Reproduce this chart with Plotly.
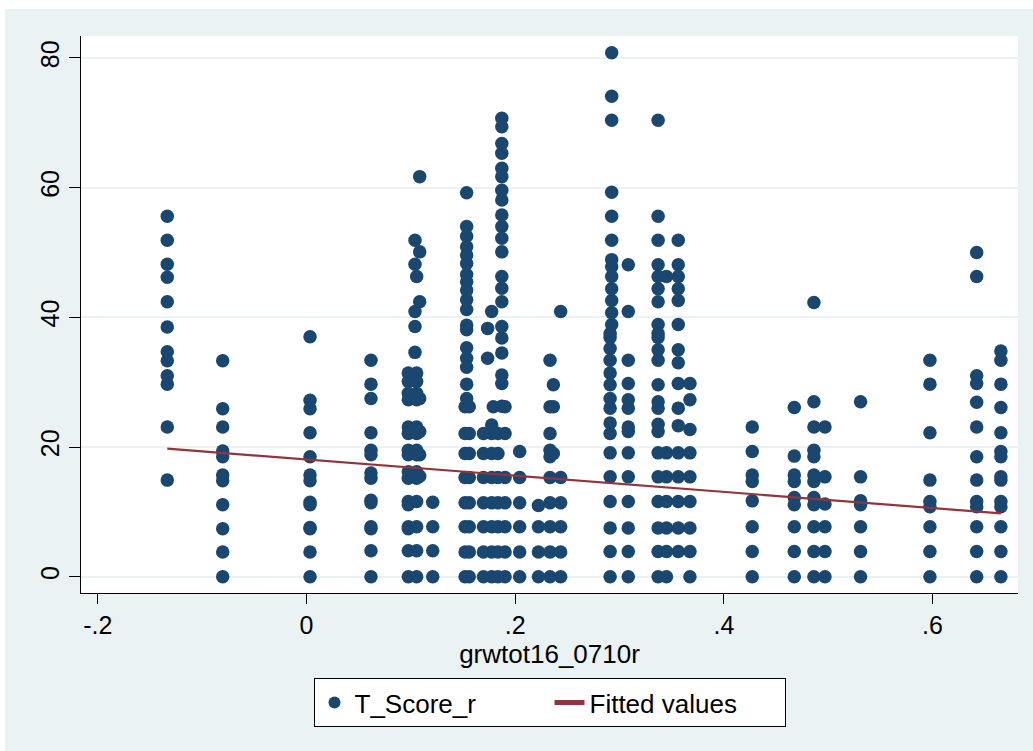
import plotly.graph_objects as go

# ---- data ----
# x position of each vertical group of points (grwtot16_0710r)
group_x = [
    -0.1334, -0.0803, 0.0034, 0.0618,
    0.0976, 0.1040, 0.1056, 0.1085, 0.1210,
    0.1520, 0.1535, 0.1560,
    0.1696, 0.1736, 0.1775, 0.1790, 0.1835, 0.1872, 0.1903,
    0.2043, 0.2223, 0.2334, 0.2366, 0.2436,
    0.2910, 0.2925, 0.3084, 0.3370, 0.3450, 0.3563, 0.3675,
    0.4272, 0.4675, 0.4863, 0.4969, 0.5310,
    0.5975, 0.6423, 0.6655,
]
# T_Score_r values of the points in each group
group_scores = [
    [55.6, 51.9, 48.2, 46.2, 42.4, 38.5, 34.7, 33.3, 31.0, 29.7, 23.1, 14.9],
    [33.3, 25.9, 23.1, 19.4, 18.5, 15.7, 14.8, 11.1, 7.4, 3.8, 0],
    [37.0, 27.2, 25.9, 22.2, 18.5, 15.7, 14.8, 11.5, 11.1, 7.6, 7.4, 3.8, 0],
    [33.4, 29.7, 27.5, 22.2, 19.5, 18.8, 16.0, 15.2, 11.8, 11.4, 7.7, 7.4, 4.0, 0],
    [31.4, 30.1, 28.3, 27.3, 23.1, 22.1, 19.5, 18.8, 16.2, 15.2, 11.6, 11.1, 7.7, 7.4, 4.0, 0],
    [51.9, 48.2, 40.9, 38.6, 34.6],
    [46.3, 31.4, 30.1, 28.3, 27.3, 23.1, 22.1, 19.5, 18.8, 16.2, 15.2, 11.6, 7.7, 4.0, 0],
    [61.7, 50.1, 42.4, 27.5, 22.4, 18.8, 15.5],
    [11.5, 7.7, 4.0, 0],
    [26.2, 22.1, 19.0, 15.3, 11.4, 7.7, 3.8, 0],
    [59.2, 54.0, 52.5, 50.9, 49.6, 48.3, 46.6, 45.5, 44.2, 42.7, 41.2, 38.8, 38.1,
     35.3, 33.7, 32.3, 29.7, 27.5],
    [26.2, 22.1, 19.0, 15.3, 11.4, 7.7, 3.8, 0],
    [22.1, 19.0, 15.3, 11.4, 7.7, 3.8, 0],
    [38.3, 33.7],
    [40.9, 23.4, 22.1, 19.0, 15.3, 11.4, 7.7, 3.8, 0],
    [26.2],
    [22.1, 19.0, 15.3, 11.4, 7.7, 3.8, 0],
    [70.7, 69.4, 66.8, 65.3, 63.0, 61.7, 59.6, 58.1, 55.8, 54.0, 52.2, 50.1, 46.3,
     44.5, 42.4, 38.6, 36.8, 34.5, 31.1, 29.8, 26.3],
    [26.2, 22.1, 15.3, 11.4, 7.7, 3.8, 0],
    [19.3, 15.3, 11.4, 7.7, 3.8, 0],
    [11.0, 7.7, 3.8, 0],
    [33.4, 26.2, 22.1, 19.5, 18.5, 15.3, 11.4, 7.7, 3.8, 0],
    [29.6, 26.2, 19.0],
    [40.9, 15.3, 11.4, 7.7, 3.8, 0],
    [37.5, 36.9, 35.2, 33.4, 31.4, 29.6, 27.5, 26.0, 23.7, 22.1, 19.1, 15.4, 11.6, 7.5, 3.9, 0],
    [80.8, 74.1, 70.4, 59.3, 55.6, 51.9, 48.9, 47.8, 46.3, 44.4, 42.6, 40.7, 38.9],
    [48.1, 40.9, 33.4, 29.8, 27.3, 26.0, 23.1, 22.4, 19.1, 15.4, 11.6, 7.5, 3.9, 0],
    [70.4, 55.6, 51.9, 48.1, 46.3, 44.4, 42.4, 38.9, 37.5, 36.9, 35.0, 33.4, 29.6,
     27.0, 26.0, 23.5, 22.4, 19.1, 15.4, 11.6, 7.5, 3.9, 0],
    [46.3, 19.1, 15.4, 11.6, 7.5, 3.9, 0],
    [51.9, 48.1, 46.3, 44.4, 42.6, 38.9, 35.0, 33.0, 29.8, 26.0, 23.3, 19.1, 15.4, 11.6, 7.5, 3.9],
    [29.8, 27.3, 22.7, 19.1, 15.4, 11.6, 7.5, 3.9, 0],
    [23.1, 19.3, 15.7, 14.7, 11.7, 7.7, 3.9, 0],
    [26.1, 18.6, 15.7, 14.7, 12.2, 11.1, 7.7, 3.9, 0],
    [42.3, 27.0, 23.1, 19.5, 18.5, 15.7, 14.7, 12.2, 11.1, 7.7, 3.9, 0],
    [23.1, 15.4, 11.2, 7.7, 3.9, 0],
    [27.0, 15.4, 11.7, 11.1, 7.7, 3.9, 0],
    [33.4, 29.7, 22.2, 14.9, 11.6, 10.8, 7.7, 3.9, 0],
    [50.0, 46.3, 31.0, 29.8, 26.9, 23.1, 18.5, 14.9, 11.6, 10.8, 7.7, 3.9, 0],
    [34.8, 33.4, 29.7, 26.1, 22.2, 19.3, 18.5, 15.4, 14.9, 11.6, 10.8, 7.7, 3.9, 0],
]

# fitted values line (end points of the linear fit)
fit_x = [-0.1334, 0.6655]
fit_y = [19.75, 9.77]

x_tick_vals = [-0.2, 0, 0.2, 0.4, 0.6]
x_tick_text = ["-.2", "0", ".2", ".4", ".6"]
y_tick_vals = [0, 20, 40, 60, 80]
y_tick_text = ["0", "20", "40", "60", "80"]

# expand groups into the point arrays
grwtot16_0710r = [gx for gx, ys in zip(group_x, group_scores) for _ in ys]
T_Score_r = [y for ys in group_scores for y in ys]

# ---- figure ----
NAVY = "#1A476F"
MAROON = "#90353B"
PANEL = "#EAF2F3"
FONT = "Liberation Sans, Arial, sans-serif"

fig = go.Figure()
fig.add_trace(go.Scatter(
    x=grwtot16_0710r, y=T_Score_r, mode="markers", name="T_Score_r",
    marker=dict(color=NAVY, size=13.5, line=dict(width=0)),
))
fig.add_trace(go.Scatter(
    x=fit_x, y=fit_y, mode="lines", name="Fitted values",
    line=dict(color=MAROON, width=2.2),
))

fig.update_layout(
    width=1033, height=751,
    margin=dict(l=81, r=15, t=36, b=158, autoexpand=False),
    paper_bgcolor=PANEL, plot_bgcolor="white",
    font=dict(family=FONT, size=25, color="black"),
    showlegend=True,
    legend=dict(
        orientation="h", x=0.5, xanchor="center", y=-0.1526, yanchor="top",
        bgcolor="white", bordercolor="black", borderwidth=1,
        font=dict(family=FONT, size=26, color="black"),
        entrywidth=190, itemsizing="constant",
    ),
    shapes=[
        dict(type="rect", xref="paper", yref="paper", x0=-0.2, x1=1.2,
             y0=1.0485, y1=1.3, fillcolor="white", line=dict(width=0), layer="below"),
        dict(type="rect", xref="paper", yref="paper", x0=-0.2, x1=-0.0811,
             y0=-0.5, y1=1.3, fillcolor="white", line=dict(width=0), layer="below"),
    ],
)
fig.update_xaxes(
    range=[-0.2161, 0.6819], tickvals=x_tick_vals, ticktext=x_tick_text,
    showgrid=False, zeroline=False, showline=True, linecolor="black", linewidth=1,
    ticks="outside", ticklen=10, tickcolor="black", tickwidth=1, automargin=False,
    tickfont=dict(size=25), title=dict(text="grwtot16_0710r", font=dict(size=26), standoff=3),
)
fig.update_yaxes(
    range=[-2.51, 83.39], tickvals=y_tick_vals, ticktext=y_tick_text, tickangle=-90,
    showgrid=True, gridcolor=PANEL, gridwidth=2, zeroline=False,
    showline=True, linecolor="black", linewidth=1, automargin=False,
    ticks="outside", ticklen=11, tickcolor="black", tickwidth=1,
    tickfont=dict(size=25),
)

fig.write_html(
    "out.html",
    config={"displayModeBar": False},
    post_script="document.body.style.margin='0';document.body.style.overflow='hidden';",
)
